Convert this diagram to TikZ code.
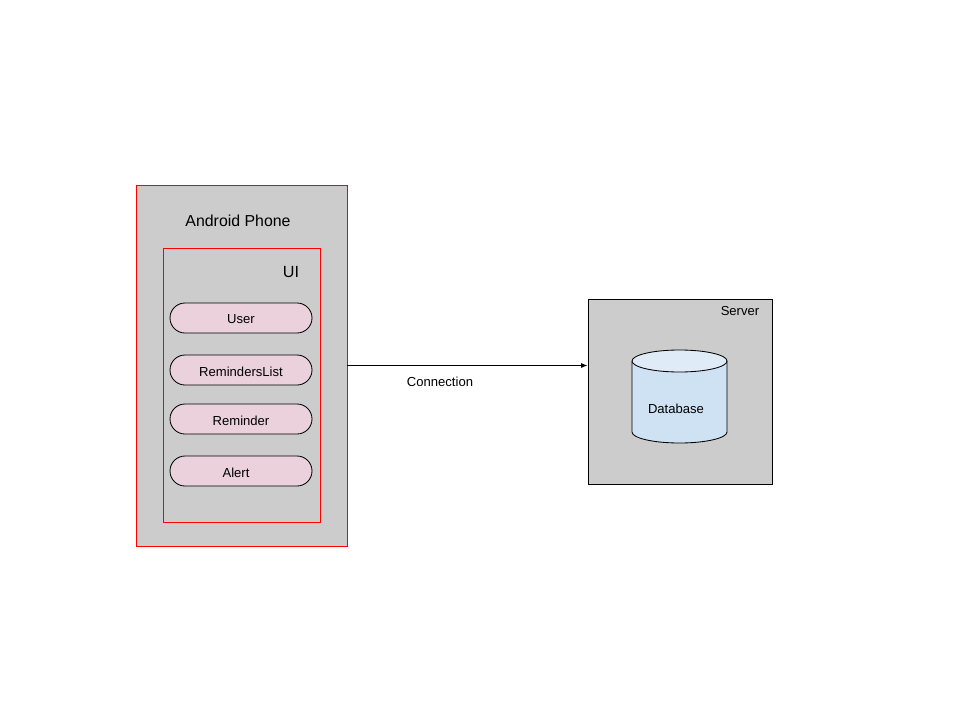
\documentclass[tikz,border=0pt]{standalone}
\usepackage{fontspec}
\setmainfont{Liberation Sans}
\usetikzlibrary{arrows.meta}
\definecolor{boxgray}{HTML}{CCCCCC}
\definecolor{pillpink}{HTML}{EAD1DC}
\definecolor{dbblue}{HTML}{CFE2F3}
\definecolor{dbtop}{HTML}{DFEBF7}
\tikzstyle{device} = [rectangle, fill=boxgray, line width=.7pt, inner sep=0pt]
\tikzstyle{pill} = [rectangle, rounded corners=.375cm, draw=black, fill=pillpink, line width=.6pt,
	minimum width=3.55cm, minimum height=.75cm, font=\fontsize{9.3}{11}\selectfont]
\tikzstyle{lbl} = [font=\fontsize{9.3}{11}\selectfont, inner sep=0pt]
\newcommand{\uipill}[3]{\node [pill] (#1) at (6.025,#2) {\raisebox{-1.1pt}[\height][\depth]{#3}};}

\begin{document}
\begin{tikzpicture}%
	\useasboundingbox (0,0) rectangle (24,18);
	% phone side
	\node [device, draw=red, minimum width=5.275cm, minimum height=9.025cm] (phone) at (6.0375,8.8625) {};
	\node [font=\fontsize{11.3}{13}\selectfont] (phonelbl) at (5.95,12.475) {Android Phone};
	\node [draw=red, line width=.7pt, minimum width=3.925cm, minimum height=6.85cm, inner sep=0pt] (ui) at (6.0375,8.375) {};
	\node [font=\fontsize{11.5}{13}\selectfont] (uilbl) at (7.275,11.2) {UI};
	\uipill{user}{10.05}{User}
	\uipill{remlist}{8.75}{RemindersList}
	\uipill{rem}{7.525}{Reminder}
	\uipill{alert}{6.225}{\hspace*{-.25cm}Alert}
	% server side
	\node [device, draw=black, minimum width=4.6cm, minimum height=4.625cm] (server) at (17,8.2125) {};
	\node [lbl] (serverlbl) at (18.5,10.225) {Server};
	\fill[dbblue] (15.8,8.975) -- (15.8,7.2) arc[start angle=180, end angle=360, x radius=1.1875, y radius=.275] -- (18.175,8.975) -- cycle;
	\draw[line width=.6pt] (15.8,8.975) -- (15.8,7.2) arc[start angle=180, end angle=360, x radius=1.1875, y radius=.275] -- (18.175,8.975);
	\draw[line width=.6pt, fill=dbtop] (16.9875,8.975) ellipse [x radius=1.1875, y radius=.275];
	\node [lbl] (db) at (16.9,7.775) {Database};
	% link
	\draw[-{Latex[length=4.5pt,width=3.5pt]}, line width=.6pt] (phone.east) -- (phone.east -| server.west);
	\node [lbl] (conn) at (11.0,8.45) {Connection};
\end{tikzpicture}
\end{document}
